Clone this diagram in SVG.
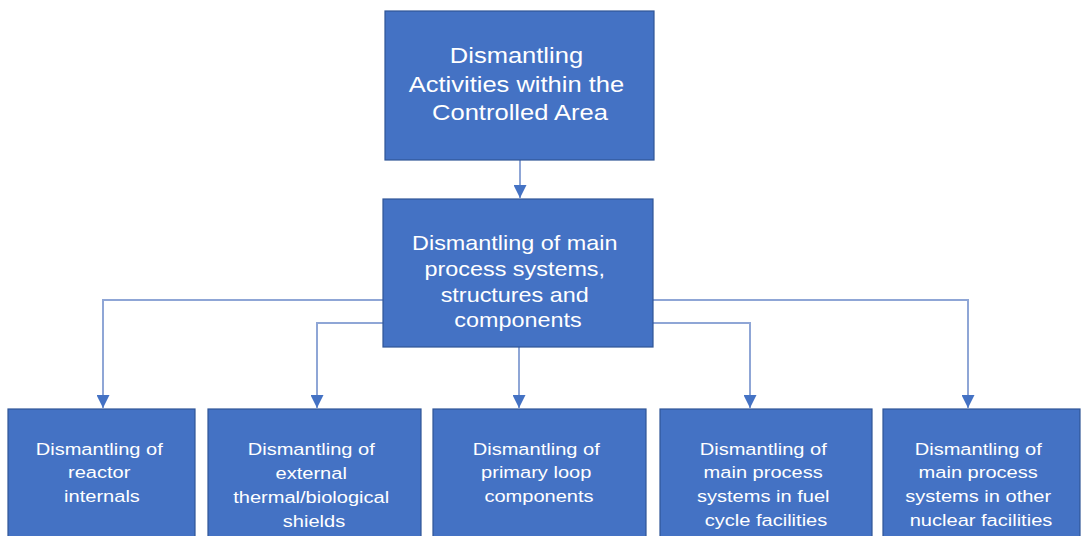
<svg xmlns="http://www.w3.org/2000/svg" width="1081" height="536" viewBox="0 0 1081 536">
  <style>
    .box { fill: #4472C4; stroke: #2F5597; stroke-width: 1.2; }
    .lbl { fill: #FFFFFF; font-family: "Liberation Sans", Arial, sans-serif; text-anchor: middle; }
    .top { font-size: 22px; }
    .mid { font-size: 20px; }
    .leaf { font-size: 17px; }
    .link { fill: none; stroke: #8FA6D6; stroke-width: 2; }
  </style>
  <defs>
    <marker id="arrow" markerUnits="userSpaceOnUse" viewBox="0 0 12 12" refX="12" refY="6" markerWidth="13" markerHeight="13" orient="auto">
      <path d="M0,0 L12,6 L0,12 Z" fill="#4472C4"/>
    </marker>
  </defs>
  <rect width="1081" height="536" fill="#FFFFFF"/>

  <!-- connectors -->
  <g id="connectors">
    <path class="link" d="M520,160 V198" marker-end="url(#arrow)"/>
    <path class="link" d="M383,300 H103 V408" marker-end="url(#arrow)"/>
    <path class="link" d="M383,323 H317 V408" marker-end="url(#arrow)"/>
    <path class="link" d="M519,347 V408" marker-end="url(#arrow)"/>
    <path class="link" d="M653,323 H750 V408" marker-end="url(#arrow)"/>
    <path class="link" d="M653,300 H968 V408" marker-end="url(#arrow)"/>
  </g>

  <!-- root -->
  <g id="node-root">
    <rect class="box" x="385" y="11" width="269" height="149"/>
    <text class="lbl top" transform="translate(520 0) scale(1.16 1)">
      <tspan x="0" y="63">Dismantling</tspan>
      <tspan x="0" y="92">Activities within the</tspan>
      <tspan x="0" y="120">Controlled Area</tspan>
    </text>
  </g>

  <!-- main process systems -->
  <g id="node-main">
    <rect class="box" x="383" y="199" width="270" height="148"/>
    <text class="lbl mid" transform="translate(518 0) scale(1.17 1)">
      <tspan x="0" y="250">Dismantling of main</tspan>
      <tspan x="0" y="276">process systems,</tspan>
      <tspan x="0" y="302">structures and</tspan>
      <tspan x="0" y="327">components</tspan>
    </text>
  </g>

  <!-- leaves -->
  <g id="node-reactor">
    <rect class="box" x="8" y="409" width="187" height="140"/>
    <text class="lbl leaf" transform="translate(102 0) scale(1.18 1)">
      <tspan x="0" y="455">Dismantling of</tspan>
      <tspan x="0" y="478">reactor</tspan>
      <tspan x="0" y="502">internals</tspan>
    </text>
  </g>

  <g id="node-shields">
    <rect class="box" x="208" y="409" width="213" height="140"/>
    <text class="lbl leaf" transform="translate(314 0) scale(1.18 1)">
      <tspan x="0" y="455">Dismantling of</tspan>
      <tspan x="0" y="479">external</tspan>
      <tspan x="0" y="503">thermal/biological</tspan>
      <tspan x="0" y="527">shields</tspan>
    </text>
  </g>

  <g id="node-primary">
    <rect class="box" x="433" y="409" width="213" height="140"/>
    <text class="lbl leaf" transform="translate(539 0) scale(1.18 1)">
      <tspan x="0" y="455">Dismantling of</tspan>
      <tspan x="0" y="478">primary loop</tspan>
      <tspan x="0" y="502">components</tspan>
    </text>
  </g>

  <g id="node-fuel">
    <rect class="box" x="660" y="409" width="212" height="140"/>
    <text class="lbl leaf" transform="translate(766 0) scale(1.18 1)">
      <tspan x="0" y="455">Dismantling of</tspan>
      <tspan x="0" y="478">main process</tspan>
      <tspan x="0" y="502">systems in fuel</tspan>
      <tspan x="0" y="526">cycle facilities</tspan>
    </text>
  </g>

  <g id="node-other">
    <rect class="box" x="883" y="409" width="197" height="140"/>
    <text class="lbl leaf" transform="translate(981 0) scale(1.18 1)">
      <tspan x="0" y="455">Dismantling of</tspan>
      <tspan x="0" y="478">main process</tspan>
      <tspan x="0" y="502">systems in other</tspan>
      <tspan x="0" y="526">nuclear facilities</tspan>
    </text>
  </g>
</svg>
